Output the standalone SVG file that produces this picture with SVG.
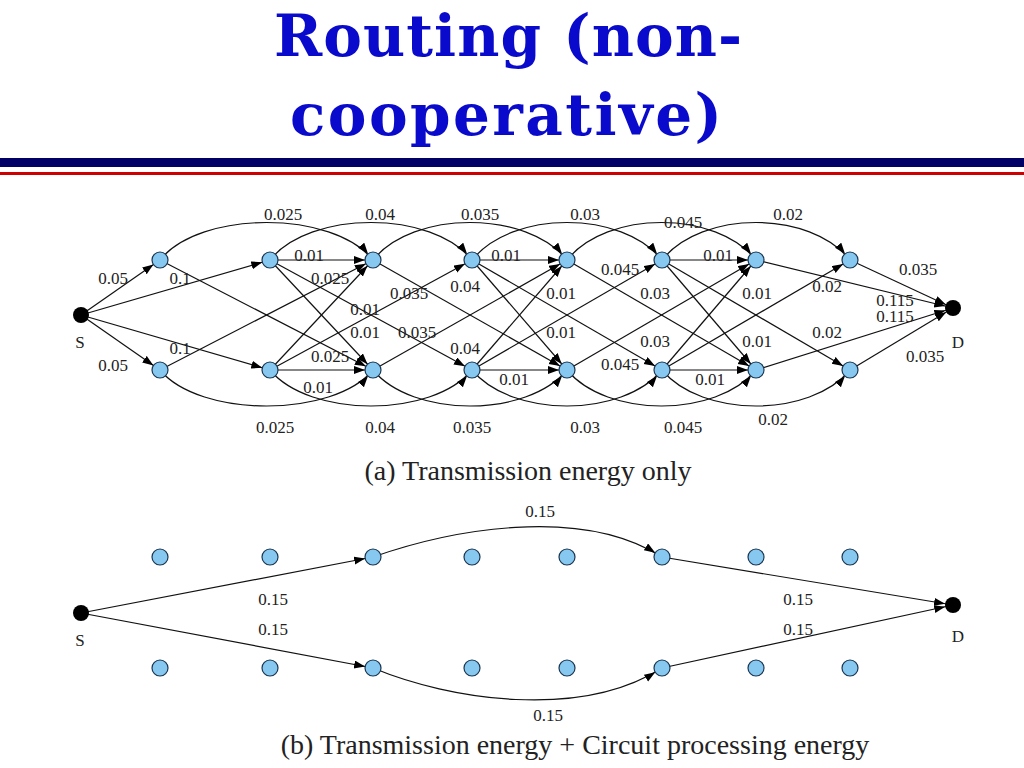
<svg xmlns="http://www.w3.org/2000/svg" width="1024" height="768" viewBox="0 0 1024 768">
<style>
.t{font-family:"DejaVu Serif",serif;font-weight:bold;font-size:58px;fill:#0a0acc}
.l{font-family:"Liberation Serif",serif;font-size:17px;fill:#222}
.c{font-family:"Liberation Serif",serif;font-size:28px;fill:#222}
.n{fill:#86c8f0;stroke:#1a3550;stroke-width:1.2}
.k{fill:#000}
.e path,.e line{stroke:#111;stroke-width:1.2;fill:none;marker-end:url(#a)}
</style>
<defs><marker id="a" markerUnits="userSpaceOnUse" markerWidth="30" markerHeight="12" refX="19" refY="4" orient="auto"><path d="M0,0L11,4L0,8z" fill="#000"/></marker></defs>
<rect width="1024" height="768" fill="#fff"/>
<text class="t" x="508" y="56" text-anchor="middle" textLength="468">Routing (non-</text>
<text class="t" x="506" y="135" text-anchor="middle" textLength="432">cooperative)</text>
<rect x="0" y="158" width="1024" height="9" fill="#000066"/>
<rect x="0" y="172" width="1024" height="3" fill="#cc0000"/>
<g class="e" id="edges-a">
<line x1="81" y1="315" x2="160" y2="260"/><line x1="81" y1="315" x2="160" y2="370"/>
<line x1="81" y1="315" x2="270" y2="260"/><line x1="81" y1="315" x2="270" y2="370"/>
<path d="M160,260C200,210 333,210 373,260"/><line x1="160" y1="260" x2="373" y2="370"/>
<path d="M160,370C200,418 333,418 373,370"/><line x1="160" y1="370" x2="373" y2="260"/>
<line x1="270" y1="260" x2="373" y2="260"/><line x1="270" y1="260" x2="373" y2="370"/>
<path d="M270,260C310,210 432,210 472,260"/><line x1="270" y1="260" x2="472" y2="370"/>
<line x1="270" y1="370" x2="373" y2="370"/><line x1="270" y1="370" x2="373" y2="260"/>
<path d="M270,370C310,418 432,418 472,370"/><line x1="270" y1="370" x2="472" y2="260"/>
<path d="M373,260C413,210 527,210 567,260"/><line x1="373" y1="260" x2="567" y2="370"/>
<path d="M373,370C413,418 527,418 567,370"/><line x1="373" y1="370" x2="567" y2="260"/>
<line x1="472" y1="260" x2="567" y2="260"/><line x1="472" y1="260" x2="567" y2="370"/>
<path d="M472,260C512,210 622,210 662,260"/><line x1="472" y1="260" x2="662" y2="370"/>
<line x1="472" y1="370" x2="567" y2="370"/><line x1="472" y1="370" x2="567" y2="260"/>
<path d="M472,370C512,418 622,418 662,370"/><line x1="472" y1="370" x2="662" y2="260"/>
<path d="M567,260C607,210 716,210 756,260"/><line x1="567" y1="260" x2="756" y2="370"/>
<path d="M567,370C607,418 716,418 756,370"/><line x1="567" y1="370" x2="756" y2="260"/>
<line x1="662" y1="260" x2="756" y2="260"/><line x1="662" y1="260" x2="756" y2="370"/>
<path d="M662,260C702,210 810,210 850,260"/><line x1="662" y1="260" x2="850" y2="370"/>
<line x1="662" y1="370" x2="756" y2="370"/><line x1="662" y1="370" x2="756" y2="260"/>
<path d="M662,370C702,418 810,418 850,370"/><line x1="662" y1="370" x2="850" y2="260"/>
<line x1="756" y1="260" x2="953" y2="308"/><line x1="756" y1="370" x2="953" y2="308"/>
<line x1="850" y1="260" x2="953" y2="308"/><line x1="850" y1="370" x2="953" y2="308"/>
</g>
<g class="e" id="edges-b">
<line x1="81" y1="613" x2="373" y2="557"/><line x1="81" y1="613" x2="373" y2="668"/>
<path d="M373,557C450,530 580,505 662,557"/><path d="M373,668C450,700 580,720 662,668"/>
<line x1="662" y1="557" x2="953" y2="605"/><line x1="662" y1="668" x2="953" y2="605"/>
</g>
<g id="nodes-a">
<circle class="k" cx="81" cy="315" r="8"/><circle class="k" cx="953" cy="308" r="8"/>
<circle class="n" cx="160" cy="260" r="8"/><circle class="n" cx="270" cy="260" r="8"/><circle class="n" cx="373" cy="260" r="8"/><circle class="n" cx="472" cy="260" r="8"/><circle class="n" cx="567" cy="260" r="8"/><circle class="n" cx="662" cy="260" r="8"/><circle class="n" cx="756" cy="260" r="8"/><circle class="n" cx="850" cy="260" r="8"/>
<circle class="n" cx="160" cy="370" r="8"/><circle class="n" cx="270" cy="370" r="8"/><circle class="n" cx="373" cy="370" r="8"/><circle class="n" cx="472" cy="370" r="8"/><circle class="n" cx="567" cy="370" r="8"/><circle class="n" cx="662" cy="370" r="8"/><circle class="n" cx="756" cy="370" r="8"/><circle class="n" cx="850" cy="370" r="8"/>
</g>
<g id="nodes-b">
<circle class="k" cx="81" cy="613" r="8"/><circle class="k" cx="953" cy="605" r="8"/>
<circle class="n" cx="160" cy="557" r="8"/><circle class="n" cx="270" cy="557" r="8"/><circle class="n" cx="373" cy="557" r="8"/><circle class="n" cx="472" cy="557" r="8"/><circle class="n" cx="567" cy="557" r="8"/><circle class="n" cx="662" cy="557" r="8"/><circle class="n" cx="756" cy="557" r="8"/><circle class="n" cx="850" cy="557" r="8"/>
<circle class="n" cx="160" cy="668" r="8"/><circle class="n" cx="270" cy="668" r="8"/><circle class="n" cx="373" cy="668" r="8"/><circle class="n" cx="472" cy="668" r="8"/><circle class="n" cx="567" cy="668" r="8"/><circle class="n" cx="662" cy="668" r="8"/><circle class="n" cx="756" cy="668" r="8"/><circle class="n" cx="850" cy="668" r="8"/>
</g>
<g class="l" text-anchor="middle">
<text x="80" y="348">S</text><text x="958" y="348">D</text>
<text x="283" y="220">0.025</text><text x="380" y="220">0.04</text><text x="480" y="220">0.035</text><text x="585" y="220">0.03</text><text x="683" y="228">0.045</text><text x="788" y="220">0.02</text>
<text x="275" y="433">0.025</text><text x="380" y="433">0.04</text><text x="472" y="433">0.035</text><text x="585" y="433">0.03</text><text x="683" y="433">0.045</text><text x="773" y="425">0.02</text>
<text x="113" y="284">0.05</text><text x="180" y="284">0.1</text><text x="113" y="371">0.05</text><text x="180" y="354">0.1</text>
<text x="309" y="261">0.01</text><text x="330" y="284">0.025</text><text x="409" y="299">0.035</text><text x="365" y="315">0.01</text><text x="365" y="338">0.01</text><text x="417" y="338">0.035</text><text x="330" y="362">0.025</text><text x="318" y="393">0.01</text>
<text x="506" y="261">0.01</text><text x="465" y="292">0.04</text><text x="561" y="299">0.01</text><text x="561" y="338">0.01</text><text x="465" y="354">0.04</text><text x="514" y="385">0.01</text>
<text x="620" y="275">0.045</text><text x="655" y="299">0.03</text><text x="655" y="347">0.03</text><text x="620" y="370">0.045</text>
<text x="718" y="261">0.01</text><text x="757" y="299">0.01</text><text x="757" y="347">0.01</text><text x="710" y="385">0.01</text>
<text x="827" y="292">0.02</text><text x="827" y="338">0.02</text><text x="918" y="275">0.035</text><text x="895" y="306">0.115</text><text x="895" y="322">0.115</text><text x="925" y="362">0.035</text>
<text x="80" y="646">S</text><text x="958" y="642">D</text>
<text x="273" y="605">0.15</text><text x="273" y="635">0.15</text><text x="540" y="517">0.15</text><text x="548" y="721">0.15</text><text x="798" y="605">0.15</text><text x="798" y="635">0.15</text>
</g>
<text class="c" x="528" y="480" text-anchor="middle">(a) Transmission energy only</text>
<text class="c" x="575" y="754" text-anchor="middle">(b) Transmission energy + Circuit processing energy</text>
</svg>
